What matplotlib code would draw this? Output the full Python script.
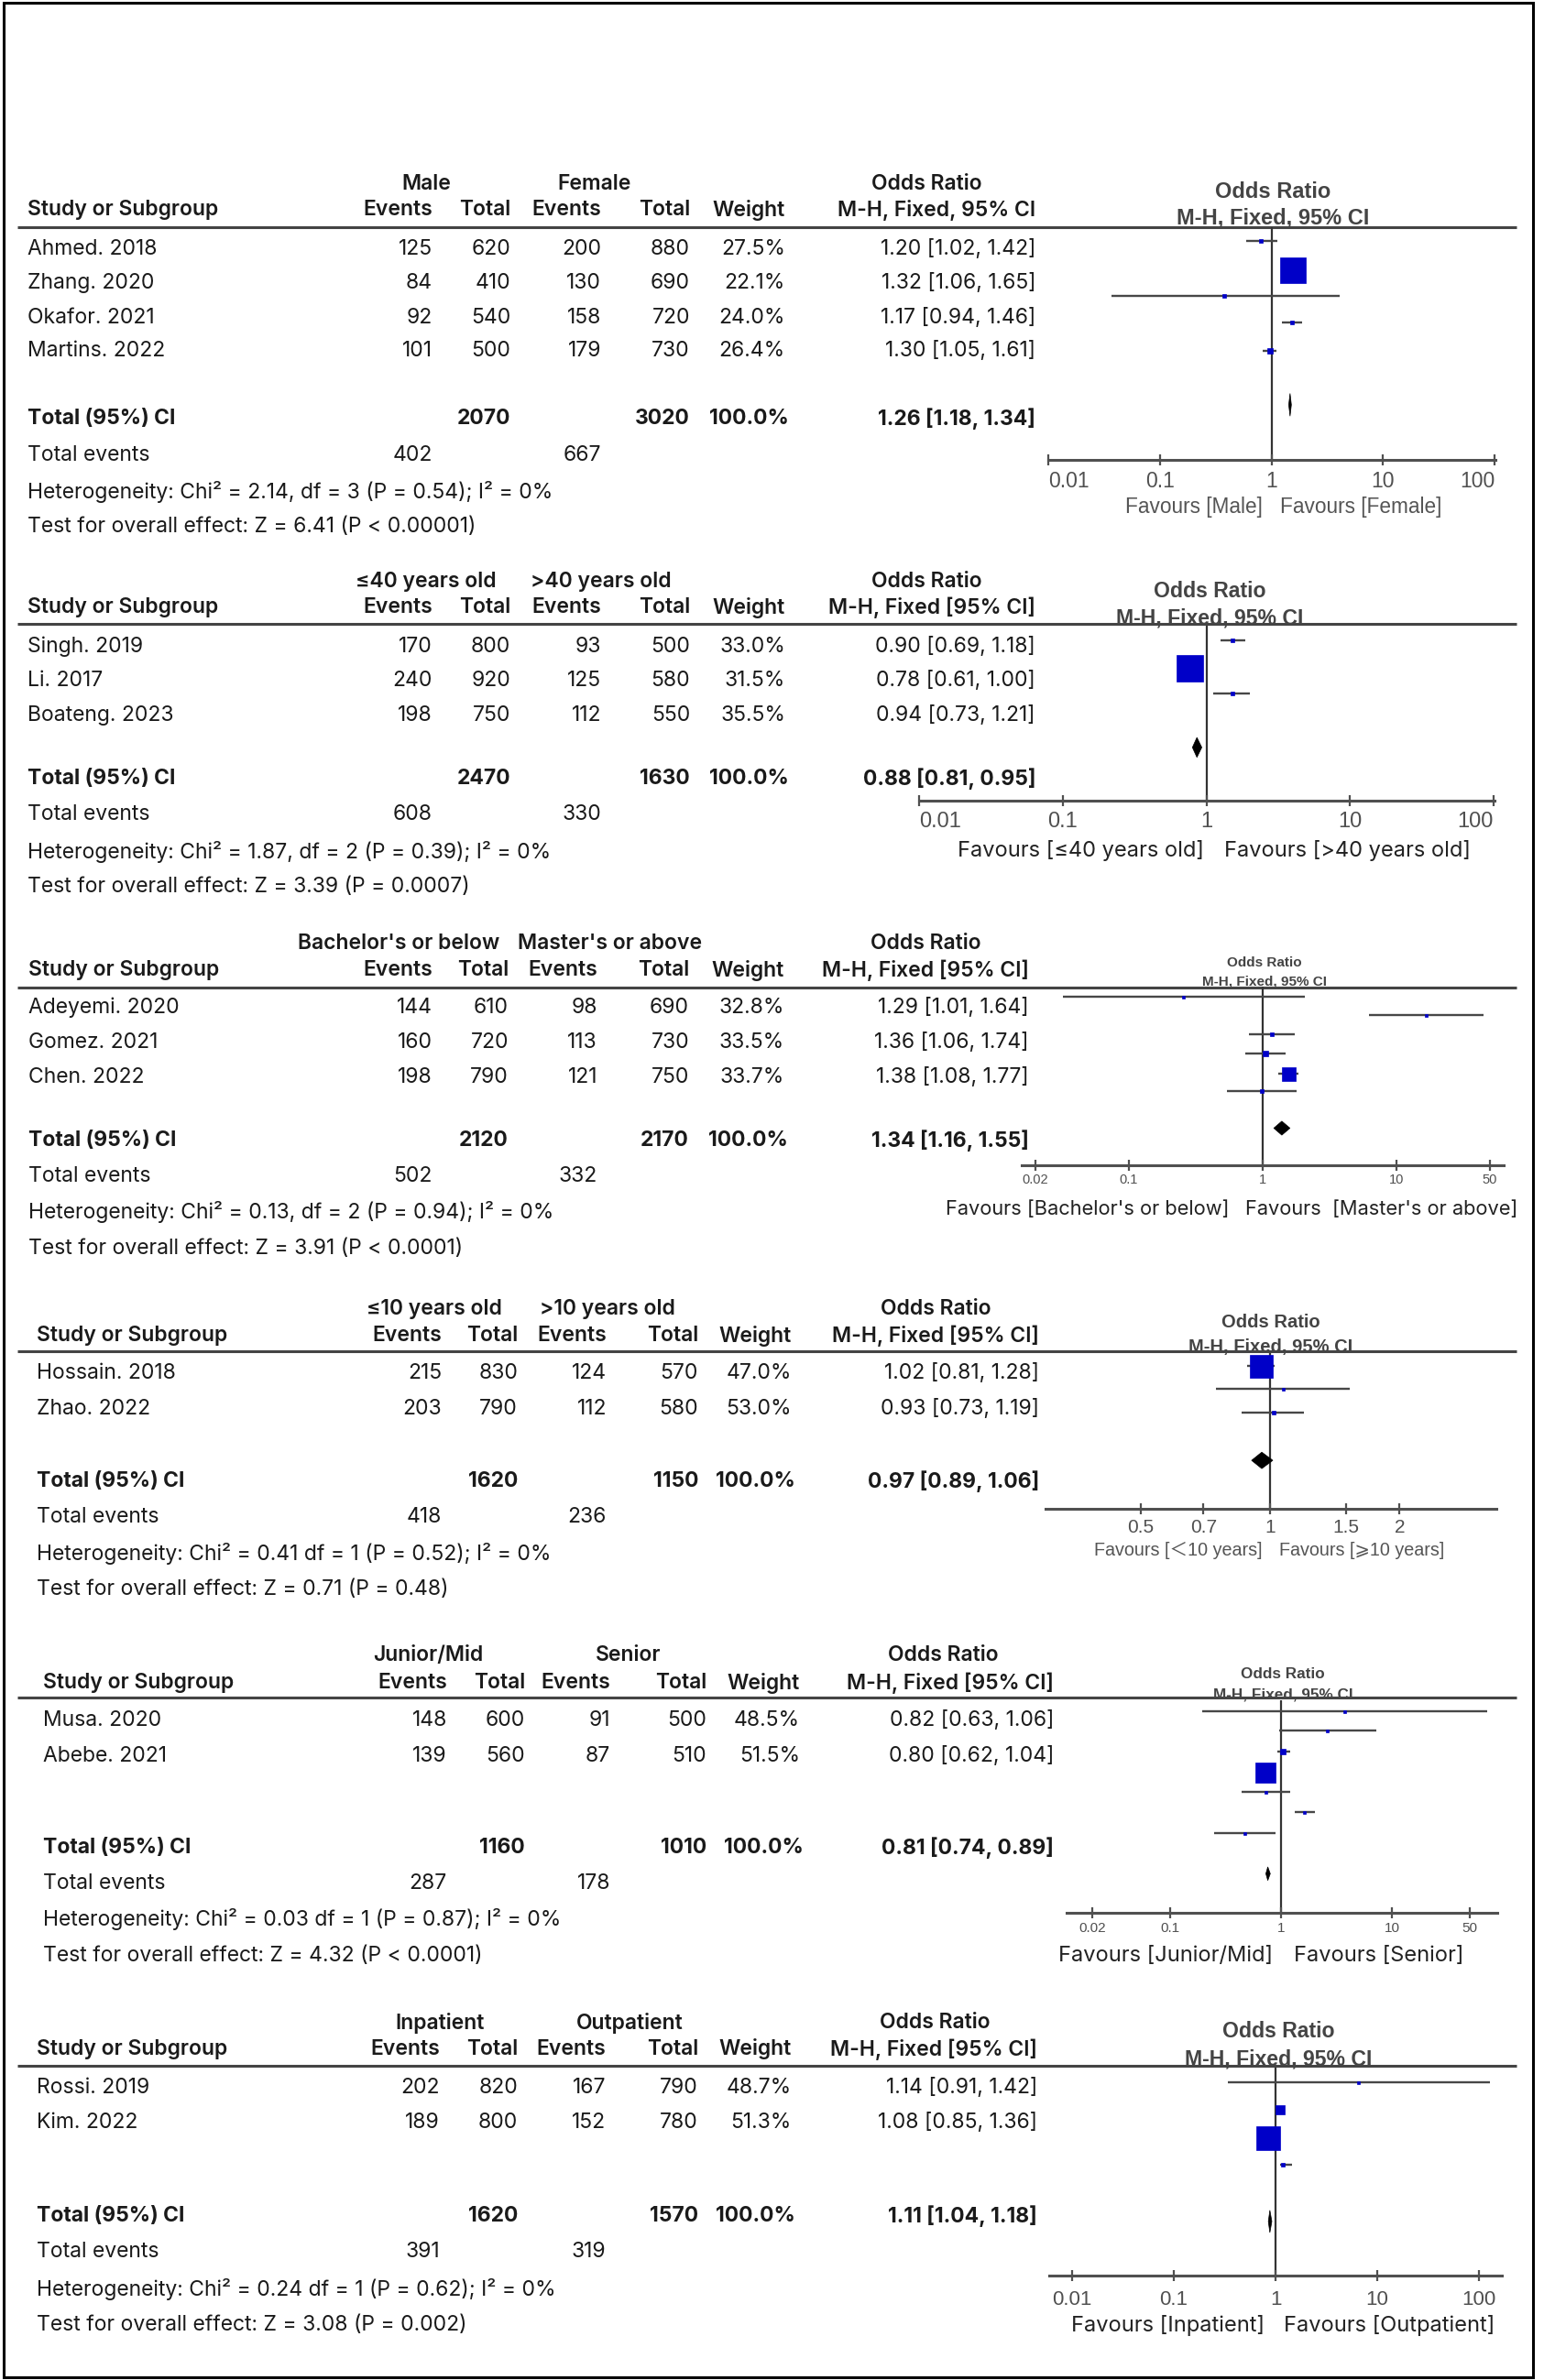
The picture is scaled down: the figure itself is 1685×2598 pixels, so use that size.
import matplotlib
matplotlib.use("Agg")
import matplotlib.pyplot as plt
import matplotlib.transforms as mtransforms
from matplotlib.patches import Rectangle, Polygon
from matplotlib.ticker import NullLocator

W, H = 1685, 2598
TABLE_FONT = ["Inter", "DejaVu Sans"]
PLOT_FONT = ["Liberation Sans", "Noto Sans CJK SC", "DejaVu Sans"]
BLUE = "#0000c8"

# ---------------- panel 1: sex
p1_groups = ["Male", "Female"]
p1_studies = ["Ahmed. 2018", "Zhang. 2020", "Okafor. 2021", "Martins. 2022"]
p1_ev1 = [125, 84, 92, 101]
p1_tot1 = [620, 410, 540, 500]
p1_ev2 = [200, 130, 158, 179]
p1_tot2 = [880, 690, 720, 730]
p1_weight = [27.5, 22.1, 24.0, 26.4]
p1_or = [1.20, 1.32, 1.17, 1.30]
p1_lo = [1.02, 1.06, 0.94, 1.05]
p1_hi = [1.42, 1.65, 1.46, 1.61]
p1_total_n = [2070, 3020]
p1_total_or = [1.26, 1.18, 1.34]
p1_total_ev = [402, 667]
p1_het = "Heterogeneity: Chi² = 2.14, df = 3 (P = 0.54); I² = 0%"
p1_test = "Test for overall effect: Z = 6.41 (P < 0.00001)"
p1_favours = ["Favours [Male]", "Favours [Female]"]
# marks as they appear in the plot area (odds ratio, ci, row position, box px)
p1_mk_or = [0.80, 1.57, 0.38, 1.54, 0.97]
p1_mk_lo = [0.59, 1.57, 0.037, 1.24, 0.84]
p1_mk_hi = [1.14, 1.57, 4.07, 1.90, 1.10]
p1_mk_row = [-0.24, 0.61, 1.36, 2.13, 2.96]
p1_mk_box = [4, 28, 4, 4, 6]
p1_dia = [1.47, 1.43, 1.51, 4.53, 0.33]

# ---------------- panel 2: age
p2_groups = ["≤40 years old", ">40 years old"]
p2_studies = ["Singh. 2019", "Li. 2017", "Boateng. 2023"]
p2_ev1 = [170, 240, 198]
p2_tot1 = [800, 920, 750]
p2_ev2 = [93, 125, 112]
p2_tot2 = [500, 580, 550]
p2_weight = [33.0, 31.5, 35.5]
p2_or = [0.90, 0.78, 0.94]
p2_lo = [0.69, 0.61, 0.73]
p2_hi = [1.18, 1.00, 1.21]
p2_total_n = [2470, 1630]
p2_total_or = [0.88, 0.81, 0.95]
p2_total_ev = [608, 330]
p2_het = "Heterogeneity: Chi² = 1.87, df = 2 (P = 0.39); I² = 0%"
p2_test = "Test for overall effect: Z = 3.39 (P = 0.0007)"
p2_favours = ["Favours [≤40 years old]", "Favours [>40 years old]"]
p2_mk_or = [1.53, 0.76, 1.51]
p2_mk_lo = [1.26, 0.76, 1.12]
p2_mk_hi = [1.88, 0.76, 2.02]
p2_mk_row = [-0.19, 0.61, 1.36]
p2_mk_box = [4, 29, 4]
p2_dia = [0.86, 0.80, 0.93, 2.93, 0.29]

# ---------------- panel 3: education
p3_groups = ["Bachelor's or below", "Master's or above"]
p3_studies = ["Adeyemi. 2020", "Gomez. 2021", "Chen. 2022"]
p3_ev1 = [144, 160, 198]
p3_tot1 = [610, 720, 790]
p3_ev2 = [98, 113, 121]
p3_tot2 = [690, 730, 750]
p3_weight = [32.8, 33.5, 33.7]
p3_or = [1.29, 1.36, 1.38]
p3_lo = [1.01, 1.06, 1.08]
p3_hi = [1.64, 1.74, 1.77]
p3_total_n = [2120, 2170]
p3_total_or = [1.34, 1.16, 1.55]
p3_total_ev = [502, 332]
p3_het = "Heterogeneity: Chi² = 0.13, df = 2 (P = 0.94); I² = 0%"
p3_test = "Test for overall effect: Z = 3.91 (P < 0.0001)"
p3_favours = ["Favours [Bachelor's or below]", "Favours  [Master's or above]"]
p3_mk_or = [0.254, 16.6, 1.17, 1.05, 1.55, 0.98]
p3_mk_lo = [0.032, 6.2, 0.79, 0.74, 1.31, 0.54]
p3_mk_hi = [2.07, 44.7, 1.74, 1.48, 1.85, 1.79]
p3_mk_row = [-0.31, 0.21, 0.76, 1.32, 1.89, 2.39]
p3_mk_box = [3, 3, 5, 6, 15, 4]
p3_dia = [1.39, 1.21, 1.60, 3.46, 0.20]

# ---------------- panel 4: experience
p4_groups = ["≤10 years old", ">10 years old"]
p4_studies = ["Hossain. 2018", "Zhao. 2022"]
p4_ev1 = [215, 203]
p4_tot1 = [830, 790]
p4_ev2 = [124, 112]
p4_tot2 = [570, 580]
p4_weight = [47.0, 53.0]
p4_or = [1.02, 0.93]
p4_lo = [0.81, 0.73]
p4_hi = [1.28, 1.19]
p4_total_n = [1620, 1150]
p4_total_or = [0.97, 0.89, 1.06]
p4_total_ev = [418, 236]
p4_het = "Heterogeneity: Chi² = 0.41 df = 1 (P = 0.52); I² = 0%"
p4_test = "Test for overall effect: Z = 0.71 (P = 0.48)"
p4_favours = ["Favours [＜10 years]", "Favours [⩾10 years]"]
p4_mk_or = [0.95, 1.07, 1.02]
p4_mk_lo = [0.885, 0.75, 0.86]
p4_mk_hi = [1.025, 1.53, 1.20]
p4_mk_row = [-0.20, 0.44, 1.10]
p4_mk_box = [25, 3, 5]
p4_dia = [0.957, 0.906, 1.015, 2.44, 0.23]

# ---------------- panel 5: position
p5_groups = ["Junior/Mid", "Senior"]
p5_studies = ["Musa. 2020", "Abebe. 2021"]
p5_ev1 = [148, 139]
p5_tot1 = [600, 560]
p5_ev2 = [91, 87]
p5_tot2 = [500, 510]
p5_weight = [48.5, 51.5]
p5_or = [0.82, 0.80]
p5_lo = [0.63, 0.62]
p5_hi = [1.06, 1.04]
p5_total_n = [1160, 1010]
p5_total_or = [0.81, 0.74, 0.89]
p5_total_ev = [287, 178]
p5_het = "Heterogeneity: Chi² = 0.03 df = 1 (P = 0.87); I² = 0%"
p5_test = "Test for overall effect: Z = 4.32 (P < 0.0001)"
p5_favours = ["Favours [Junior/Mid]", "Favours [Senior]"]
p5_mk_or = [3.75, 2.61, 1.03, 0.72, 0.73, 1.62, 0.47]
p5_mk_lo = [0.193, 0.97, 0.93, 0.72, 0.44, 1.32, 0.247]
p5_mk_hi = [73.0, 7.2, 1.20, 0.72, 1.20, 2.04, 0.90]
p5_mk_row = [-0.26, 0.28, 0.87, 1.46, 2.00, 2.56, 3.15]
p5_mk_box = [3, 3, 6, 22, 3, 3, 3]
p5_dia = [0.76, 0.73, 0.80, 4.29, 0.19]

# ---------------- panel 6: department
p6_groups = ["Inpatient", "Outpatient"]
p6_studies = ["Rossi. 2019", "Kim. 2022"]
p6_ev1 = [202, 189]
p6_tot1 = [820, 800]
p6_ev2 = [167, 152]
p6_tot2 = [790, 780]
p6_weight = [48.7, 51.3]
p6_or = [1.14, 1.08]
p6_lo = [0.91, 0.85]
p6_hi = [1.42, 1.36]
p6_total_n = [1620, 1570]
p6_total_or = [1.11, 1.04, 1.18]
p6_total_ev = [391, 319]
p6_het = "Heterogeneity: Chi² = 0.24 df = 1 (P = 0.62); I² = 0%"
p6_test = "Test for overall effect: Z = 3.08 (P = 0.002)"
p6_favours = ["Favours [Inpatient]", "Favours [Outpatient]"]
p6_mk_or = [6.5, 1.11, 0.85, 1.18]
p6_mk_lo = [0.34, 1.11, 0.85, 1.11]
p6_mk_hi = [129.0, 1.11, 0.85, 1.45]
p6_mk_row = [-0.16, 0.63, 1.46, 2.21]
p6_mk_box = [3, 10, 26, 4]
p6_dia = [0.88, 0.85, 0.92, 3.84, 0.32]

TICKS_A = [0.01, 0.1, 1, 10, 100]
TICKS_B = [0.02, 0.1, 1, 10, 50]
TICKS_C = [0.5, 0.7, 1, 1.5, 2]


def panel(n):
    g = globals()
    keys = ["groups", "studies", "ev1", "tot1", "ev2", "tot2", "weight", "or", "lo", "hi",
            "total_n", "total_or", "total_ev", "het", "test", "favours",
            "mk_or", "mk_lo", "mk_hi", "mk_row", "mk_box", "dia"]
    return {k: g["p%d_%s" % (n, k)] for k in keys}


# layout in output pixels (positions only)
LAYOUT = [
    dict(left=30, h1=201, h2=229, line=248, rows=[272, 309, 347, 383], total=457, tev=497, het=537, test=575,
         cols=[472, 557, 656, 753, 857, 1130], g1=465, g2=649, orx=1011, cihead="M-H, Fixed, 95% CI",
         x1=1387, dec=122, xl=1144, xr=1632, ytop=248, ybot=502, row0=272, dy=37.5,
         ticks=TICKS_A, tfs=16.5, ends=True, ttl=(1389, 209, 238, 17), tly=525,
         fav=(553, 16.3, 1378, 1397, "grey")),
    dict(left=30, h1=635, h2=663, line=681, rows=[706, 743, 781], total=850, tev=889, het=930, test=968,
         cols=[472, 557, 656, 753, 857, 1130], g1=465, g2=656, orx=1011, cihead="M-H, Fixed [95% CI]",
         x1=1316, dec=157, xl=1003, xr=1631, ytop=683, ybot=874, row0=706, dy=37.5,
         ticks=TICKS_A, tfs=17, ends=True, ttl=(1320, 645, 675, 16.6), tly=897,
         fav=(928, 17, 1314, 1336, "black")),
    dict(left=31, h1=1030, h2=1059, line=1078, rows=[1100, 1138, 1176], total=1245, tev=1284, het=1323, test=1363,
         cols=[472, 555, 652, 752, 856, 1123], g1=435, g2=666, orx=1010, cihead="M-H, Fixed [95% CI]",
         x1=1378, dec=146, xl=1115, xr=1641, ytop=1077, ybot=1272, row0=1100, dy=38,
         ticks=TICKS_B, tfs=10.5, ends=False, ttl=(1380, 1051, 1071, 11), tly=1288,
         fav=(1320, 15.7, 1341, 1359, "black")),
    dict(left=40, h1=1429, h2=1458, line=1475, rows=[1499, 1538], total=1617, tev=1656, het=1696, test=1735,
         cols=[482, 565, 662, 762, 864, 1134], g1=474, g2=663, orx=1021, cihead="M-H, Fixed [95% CI]",
         x1=1386, dec=470, xl=1141, xr=1633, ytop=1477, ybot=1647, row0=1499, dy=39,
         ticks=TICKS_C, tfs=15, ends=False, ttl=(1387, 1443, 1470, 14.5), tly=1667,
         fav=(1692, 14.2, 1378, 1396, "grey")),
    dict(left=47, h1=1807, h2=1837, line=1853, rows=[1878, 1917], total=2017, tev=2056, het=2095, test=2135,
         cols=[488, 573, 666, 771, 873, 1150], g1=467, g2=686, orx=1029, cihead="M-H, Fixed [95% CI]",
         x1=1398, dec=121, xl=1164, xr=1634, ytop=1856, ybot=2088, row0=1878, dy=39,
         ticks=TICKS_B, tfs=11, ends=False, ttl=(1400, 1827, 1850, 12.3), tly=2105,
         fav=(2135, 17, 1389, 1412, "black")),
    dict(left=40, h1=2208, h2=2237, line=2255, rows=[2279, 2317], total=2419, tev=2458, het=2499, test=2538,
         cols=[480, 565, 661, 762, 864, 1132], g1=480, g2=687, orx=1020, cihead="M-H, Fixed [95% CI]",
         x1=1392, dec=111, xl=1145, xr=1639, ytop=2257, ybot=2484, row0=2279, dy=38,
         ticks=TICKS_A, tfs=16, ends=False, ttl=(1395, 2217, 2248, 16.6), tly=2510,
         fav=(2538, 17, 1380, 1401, "black")),
]

FS = 16.5
fig = plt.figure(figsize=(W / 100, H / 100), dpi=100)
main = fig.add_axes([0, 0, 1, 1])
main.set_xlim(0, W)
main.set_ylim(H, 0)
main.axis("off")
main.add_patch(Rectangle((4, 3), 1669, 2592, fill=False, edgecolor="black", lw=2.2))


def txt(x, y, s, ha="left", bold=None, size=FS, color="#1a1a1a", fam=TABLE_FONT):
    main.text(x, y, s, ha=ha, va="center", fontsize=size, family=fam,
              fontweight=bold or "normal", color=color)


def ci_str(v):
    return "%.2f [%.2f, %.2f]" % (v[0], v[1], v[2])


for i, lay in enumerate(LAYOUT):
    d = panel(i + 1)
    c = lay["cols"]
    # table header
    txt(lay["g1"], lay["h1"], d["groups"][0], ha="center", bold="semibold")
    txt(lay["g2"], lay["h1"], d["groups"][1], ha="center", bold="semibold")
    txt(lay["orx"], lay["h1"], "Odds Ratio", ha="center", bold="semibold")
    txt(lay["left"], lay["h2"], "Study or Subgroup", bold="semibold")
    for x, s in zip(c, ["Events", "Total", "Events", "Total", "Weight", lay["cihead"]]):
        txt(x, lay["h2"], s, ha="right", bold="semibold")
    main.plot([19, 1655], [lay["line"], lay["line"]], color="#444444", lw=2.2, solid_capstyle="butt")

    # study rows
    for k, y in enumerate(lay["rows"]):
        txt(lay["left"], y, d["studies"][k])
        vals = [str(d["ev1"][k]), str(d["tot1"][k]), str(d["ev2"][k]), str(d["tot2"][k]),
                "%.1f%%" % d["weight"][k], ci_str([d["or"][k], d["lo"][k], d["hi"][k]])]
        for x, s in zip(c, vals):
            txt(x, y, s, ha="right")

    txt(lay["left"], lay["total"], "Total (95%) CI", bold="bold")
    txt(c[1], lay["total"], str(d["total_n"][0]), ha="right", bold="bold")
    txt(c[3], lay["total"], str(d["total_n"][1]), ha="right", bold="bold")
    txt(c[4] + 4, lay["total"], "100.0%", ha="right", bold="bold")
    txt(c[5], lay["total"], ci_str(d["total_or"]), ha="right", bold="bold")
    txt(lay["left"], lay["tev"], "Total events")
    txt(c[0], lay["tev"], str(d["total_ev"][0]), ha="right")
    txt(c[2], lay["tev"], str(d["total_ev"][1]), ha="right")
    txt(lay["left"], lay["het"], d["het"])
    txt(lay["left"], lay["test"], d["test"])

    # forest plot
    x1, dec = lay["x1"], lay["dec"]
    lo = 10 ** ((lay["xl"] - x1) / dec)
    hi = 10 ** ((lay["xr"] - x1) / dec)
    ax = fig.add_axes([lay["xl"] / W, 1 - lay["ybot"] / H,
                       (lay["xr"] - lay["xl"]) / W, (lay["ybot"] - lay["ytop"]) / H])
    ax.set_facecolor("none")
    ax.set_xscale("log")
    ax.set_xlim(lo, hi)
    ax.set_ylim((lay["ybot"] - lay["row0"]) / lay["dy"], (lay["ytop"] - lay["row0"]) / lay["dy"])
    for s in ["top", "left", "right"]:
        ax.spines[s].set_visible(False)
    ax.spines["bottom"].set_color("#505050")
    ax.spines["bottom"].set_linewidth(2.2)
    ax.set_yticks([])
    ax.set_xticks(lay["ticks"])
    ax.xaxis.set_minor_locator(NullLocator())
    ax.set_xticklabels([])
    ax.tick_params(axis="x", direction="inout", length=9, width=1.6, color="#505050")
    ax.axvline(1, color="#333333", lw=1.6, zorder=1)

    ax.hlines(d["mk_row"], d["mk_lo"], d["mk_hi"], color="#474747", lw=1.7, zorder=2)
    for o, r, b in zip(d["mk_or"], d["mk_row"], d["mk_box"]):
        ax.plot([o], [r], marker="s", ls="", ms=b * 0.72, color=BLUE, mec=BLUE, mew=0.5,
                zorder=3, clip_on=False)
    do, dl, dh, dr, dhh = d["dia"]
    ax.add_patch(Polygon([(dl, dr), (do, dr - dhh), (dh, dr), (do, dr + dhh)],
                         closed=True, facecolor="black", edgecolor="black", lw=0.5, zorder=3))

    trans = mtransforms.blended_transform_factory(ax.transData, main.transData)
    labels = ["%g" % t for t in lay["ticks"]]
    for j, (t, s) in enumerate(zip(lay["ticks"], labels)):
        ha = "center"
        if lay["ends"] and j == 0:
            ha = "left"
        if lay["ends"] and j == len(labels) - 1:
            ha = "right"
        ax.text(t, lay["tly"], s, transform=trans, ha=ha, va="center", fontsize=lay["tfs"],
                family=PLOT_FONT, color="#505050")

    tx, ty1, ty2, tfs = lay["ttl"]
    txt(tx, ty1, "Odds Ratio", ha="center", bold="bold", size=tfs, color="#444444", fam=PLOT_FONT)
    txt(tx, ty2, "M-H, Fixed, 95% CI", ha="center", bold="bold", size=tfs, color="#444444", fam=PLOT_FONT)

    fy, ffs, fl, fr, fcol = lay["fav"]
    if fcol == "grey":
        txt(fl, fy, d["favours"][0], ha="right", size=ffs, color="#555555", fam=PLOT_FONT)
        txt(fr, fy, d["favours"][1], ha="left", size=ffs, color="#555555", fam=PLOT_FONT)
    else:
        txt(fl, fy, d["favours"][0], ha="right", size=ffs, color="#222222")
        txt(fr, fy, d["favours"][1], ha="left", size=ffs, color="#222222")

fig.savefig("out.png", dpi=100)
